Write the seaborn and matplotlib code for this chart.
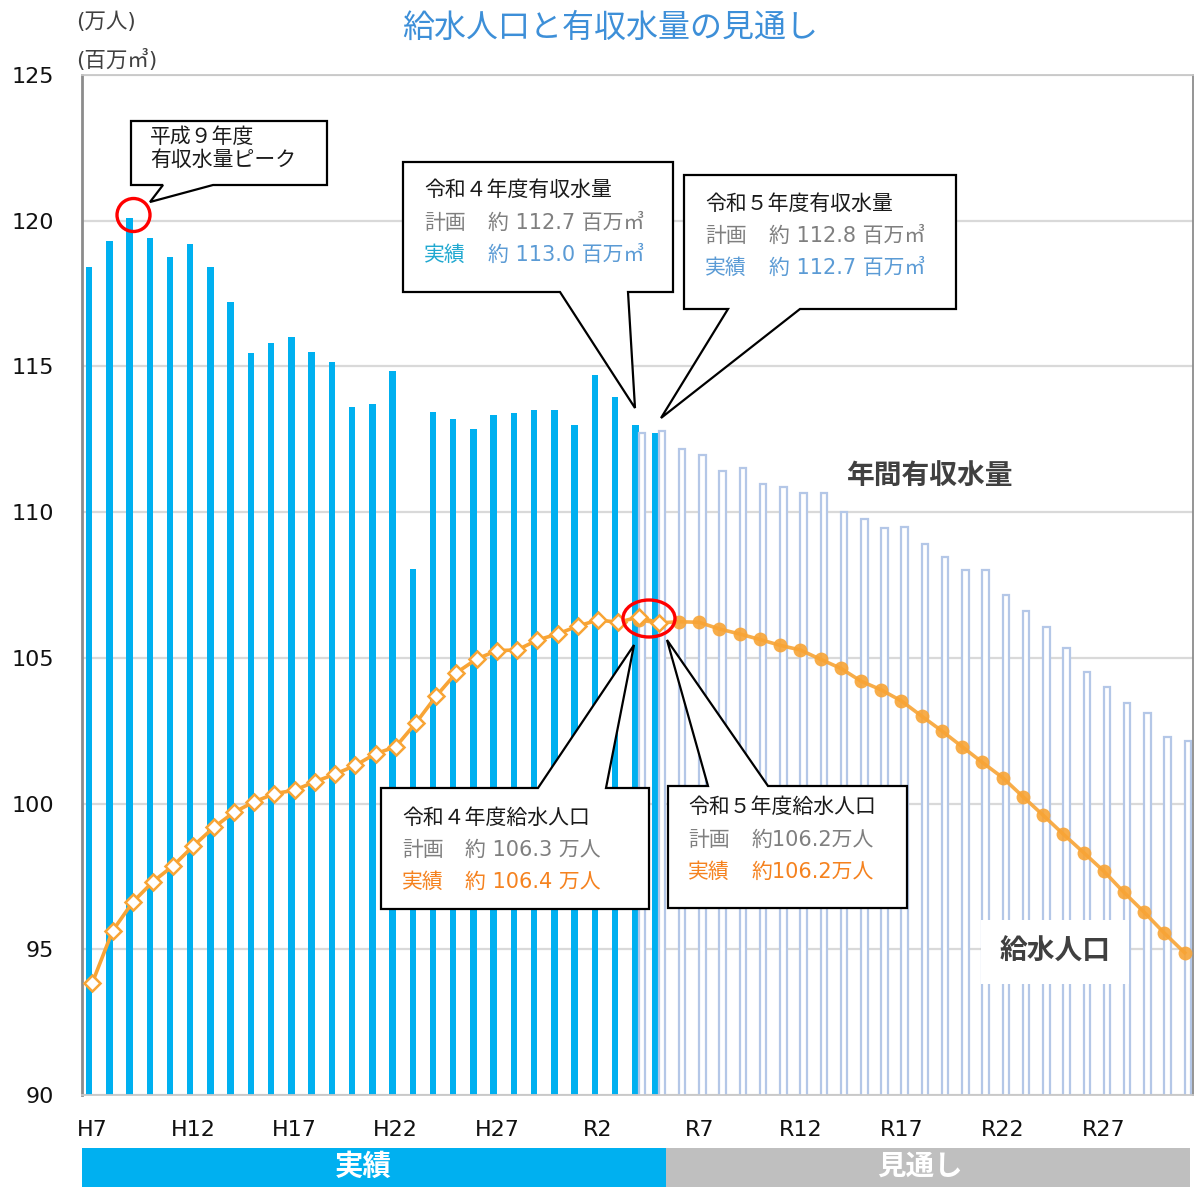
import matplotlib

matplotlib.use("Agg")
import matplotlib.pyplot as plt
import matplotlib.transforms as mtransforms
from matplotlib.colors import same_color
from matplotlib.patches import Ellipse, Polygon, Rectangle
import pandas as pd
import seaborn as sns

W, H = 1195, 1187

# ---- data ----
tick_years = [1995, 2000, 2005, 2010, 2015, 2020, 2025, 2030, 2035, 2040, 2045]
tick_labels = ["H7", "H12", "H17", "H22", "H27", "R2", "R7", "R12", "R17", "R22", "R27"]
y_ticks = [90, 95, 100, 105, 110, 115, 120, 125]

# actual (実績) FY1995 (H7) .. FY2023 (R5)
actual_years = list(range(1995, 2024))
actual_water = [118.4, 119.3, 120.1, 119.4, 118.75, 119.2, 118.4, 117.2, 115.45, 115.8,
                116.0, 115.5, 115.15, 113.6, 113.7, 114.85, 108.05, 113.45, 113.2, 112.85,
                113.35, 113.4, 113.5, 113.5, 113.0, 114.7, 113.95, 113.0, 112.7]
actual_pop = [93.85, 95.63, 96.62, 97.32, 97.87, 98.55, 99.18, 99.7, 100.06, 100.34,
              100.46, 100.75, 101.01, 101.31, 101.71, 101.95, 102.77, 103.69, 104.49, 104.96,
              105.25, 105.27, 105.61, 105.82, 106.09, 106.3, 106.22, 106.4, 106.2]

# plan (計画 / 見通し) FY2022 (R4) .. FY2049 (R31)
plan_years = list(range(2022, 2050))
plan_water = [112.7, 112.8, 112.15, 111.95, 111.4, 111.5, 110.95, 110.85, 110.65, 110.65,
              110.0, 109.75, 109.45, 109.5, 108.9, 108.45, 108.0, 108.0, 107.15, 106.6,
              106.05, 105.35, 104.5, 104.0, 103.45, 103.1, 102.3, 102.15]
plan_pop = [106.3, 106.2, 106.24, 106.22, 105.99, 105.82, 105.63, 105.43, 105.27, 104.95,
            104.64, 104.2, 103.9, 103.52, 103.0, 102.49, 101.95, 101.41, 100.89, 100.24,
            99.6, 98.95, 98.32, 97.68, 96.95, 96.27, 95.55, 94.88]

BLUE = "#00B0F0"
PLAN_EDGE = "#B4C7E7"
ORANGE = "#F8A435"
GRAY_TXT = "#7F7F7F"

# DejaVu for latin/digits (wide, Meiryo-like), Noto CJK for the kanji
plt.rcParams["font.family"] = ["DejaVu Sans", "Noto Sans CJK JP"]

fig = plt.figure(figsize=(W / 100, H / 100), dpi=100)
ax = fig.add_axes([82 / W, 1 - 1095 / H, (1193 - 82) / W, (1095 - 75) / H])

bars = pd.concat([
    pd.DataFrame({"year": actual_years, "value": actual_water, "series": "実績"}),
    pd.DataFrame({"year": plan_years, "value": plan_water, "series": "計画"}),
])
sns.barplot(data=bars, x="year", y="value", hue="series", hue_order=["実績", "計画"],
            palette={"実績": BLUE, "計画": "#FFFFFF"}, saturation=1, native_scale=True,
            width=0.64, dodge=True, errorbar=None, legend=False, ax=ax, zorder=2)
for p in ax.patches:
    if same_color(p.get_facecolor(), "white"):
        p.set_edgecolor(PLAN_EDGE)
        p.set_linewidth(1.6)
    else:
        p.set_edgecolor(BLUE)
        p.set_linewidth(0)

sns.lineplot(x=plan_years, y=plan_pop, color=ORANGE, lw=2.6, marker="o", markersize=10,
             markeredgewidth=0, alpha=0.9, ax=ax, zorder=4)
sns.lineplot(x=actual_years, y=actual_pop, color=ORANGE, lw=2.6, marker="D", markersize=8.5,
             markerfacecolor="white", markeredgecolor=ORANGE, markeredgewidth=1.8, ax=ax, zorder=5)

ax.set_xlim(1994.49, 2049.41)
ax.set_ylim(90, 125)
ax.set_xticks(tick_years)
ax.set_xticklabels(tick_labels)
ax.set_yticks(y_ticks)
ax.set_xlabel("")
ax.set_ylabel("")
ax.tick_params(axis="both", length=0, labelsize=16, colors="#111111")
ax.tick_params(axis="x", pad=18)
ax.tick_params(axis="y", pad=20)
ax.yaxis.grid(True, color="#D9D9D9", lw=1.6)
ax.xaxis.grid(False)
ax.set_axisbelow(True)
for s in ax.spines.values():
    s.set_color("#C8C8C8")
    s.set_linewidth(1.3)
ax.spines["left"].set_color("#8C8C8C")
ax.spines["left"].set_linewidth(2)
ax.spines["right"].set_color("#8C8C8C")

# reference-pixel coordinates (y down) for annotations
pix = mtransforms.Affine2D().scale(1 / W, -1 / H).translate(0, 1) + fig.transFigure


def ptext(x, y, s, **kw):
    kw.setdefault("va", "center")
    kw.setdefault("ha", "left")
    kw.setdefault("zorder", 8)
    fig.text(x, y, s, transform=pix, **kw)


def callout(box, base, tip, side="bottom"):
    l, t, r, b = box
    if side == "bottom":
        pts = [(l, t), (r, t), (r, b), (base[1], b), tip, (base[0], b), (l, b)]
    else:
        pts = [(l, t), (base[0], t), tip, (base[1], t), (r, t), (r, b), (l, b)]
    fig.add_artist(Polygon(pts, closed=True, transform=pix, fc="white", ec="black",
                           lw=1.6, zorder=7))


# title and units
ptext(610, 28, "給水人口と有収水量の見通し", ha="center", fontsize=23, color="#3D8FD8")
ptext(76, 22, "(万人)", fontsize=15.5, color="#404040")
ptext(76, 60, "(百万㎥)", fontsize=15.5, color="#404040")

# bottom period bands
fig.add_artist(Rectangle((82, 1148), 584, 39, transform=pix, fc=BLUE, ec="none", zorder=6))
fig.add_artist(Rectangle((666, 1148), 524, 39, transform=pix, fc="#BFBFBF", ec="none", zorder=6))
ptext(363, 1167, "実績", ha="center", fontsize=20.5, color="white", fontweight="bold")
ptext(920, 1167, "見通し", ha="center", fontsize=20.5, color="white", fontweight="bold")

# series labels
ptext(930, 476, "年間有収水量", ha="center", fontsize=20, color="#404040", fontweight="bold")
ptext(1055, 952, "給水人口", ha="center", fontsize=20, color="#404040", fontweight="bold",
      bbox=dict(fc="white", ec="none", pad=13))

# highlight circles
fig.add_artist(Ellipse((133.5, 215), 33, 33, transform=pix, fill=False, ec="#FF0000", lw=2.4, zorder=7))
fig.add_artist(Ellipse((649, 618.5), 52, 37, transform=pix, fill=False, ec="#FF0000", lw=2.4, zorder=7))

FS = 15
# peak callout
callout((131, 121, 327, 185), (163, 213), (150, 202))
ptext(150, 137, "平成９年度", fontsize=FS, color="#1A1A1A")
ptext(150, 160, "有収水量ピーク", fontsize=FS, color="#1A1A1A")

# R4 water
callout((403, 162, 673, 292), (560, 628), (635, 408))
ptext(424, 190, "令和４年度有収水量", fontsize=FS, color="#1A1A1A")
ptext(424, 223, "計画", fontsize=FS, color=GRAY_TXT)
ptext(488, 223, "約 112.7 百万㎥", fontsize=FS, color=GRAY_TXT)
ptext(424, 255, "実績", fontsize=FS, color="#1FA8D0")
ptext(488, 255, "約 113.0 百万㎥", fontsize=FS, color="#5B9BD5")

# R5 water
callout((684, 175, 956, 309), (728, 800), (661, 418))
ptext(705, 204, "令和５年度有収水量", fontsize=FS, color="#1A1A1A")
ptext(705, 236, "計画", fontsize=FS, color=GRAY_TXT)
ptext(769, 236, "約 112.8 百万㎥", fontsize=FS, color=GRAY_TXT)
ptext(705, 268, "実績", fontsize=FS, color="#5B9BD5")
ptext(769, 268, "約 112.7 百万㎥", fontsize=FS, color="#5B9BD5")

# R4 population
callout((381, 788, 649, 909), (538, 606), (634, 645), side="top")
ptext(402, 818, "令和４年度給水人口", fontsize=FS, color="#1A1A1A")
ptext(402, 850, "計画", fontsize=FS, color=GRAY_TXT)
ptext(465, 850, "約 106.3 万人", fontsize=FS, color=GRAY_TXT)
ptext(402, 882, "実績", fontsize=FS, color="#F5821F")
ptext(465, 882, "約 106.4 万人", fontsize=FS, color="#F5821F")

# R5 population
callout((668, 786, 907, 908), (708, 768), (667, 640), side="top")
ptext(688, 807, "令和５年度給水人口", fontsize=FS, color="#1A1A1A")
ptext(688, 840, "計画", fontsize=FS, color=GRAY_TXT)
ptext(752, 840, "約106.2万人", fontsize=FS, color=GRAY_TXT)
ptext(688, 872, "実績", fontsize=FS, color="#F5821F")
ptext(752, 872, "約106.2万人", fontsize=FS, color="#F5821F")

fig.savefig("out.png", dpi=100, facecolor="white")
plt.close(fig)
